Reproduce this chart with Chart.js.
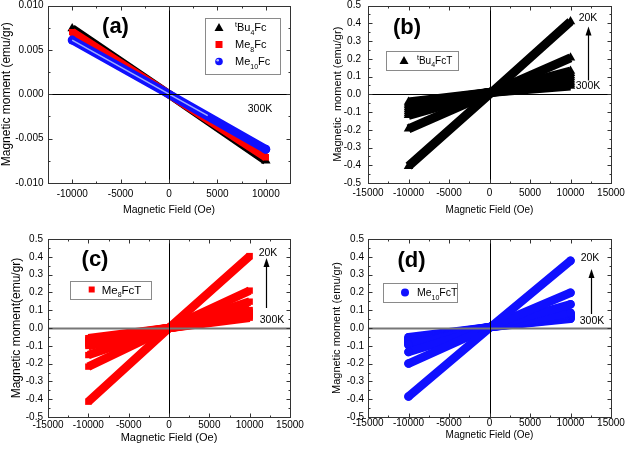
<!DOCTYPE html>
<html><head><meta charset="utf-8">
<script src="https://cdn.jsdelivr.net/npm/chart.js@4.4.0/dist/chart.umd.min.js"></script>
<style>
html,body{margin:0;padding:0;background:#fff;overflow:hidden;width:625px;height:450px;position:relative;}
</style></head><body>
<script>
const FONT = "'Liberation Sans', Arial, Helvetica, sans-serif";
Chart.defaults.font.family = FONT;
Chart.defaults.color = '#000';

// ---------------- DATA ----------------
// Panel (a): 300 K magnetisation of the neutral ferrocenes
const fieldA = [-10000, 0, 10000];
const tBu4Fc = [0.0074, 0.0000, -0.0075];
const me8Fc  = [0.0070, 0.0000, -0.0071];
const me10Fc = [0.0061, 0.0000, -0.0062];
const me10GlintField = [-10000, 4000];
const me10Glint      = [0.0061, -0.0024];

// Panels (b)-(d): isotherms, 20 K (first) ... 300 K (last)
const fieldT = [-10000, 0, 10000];
const tBu4FcT = [
  [-0.405, 0.000, 0.410],
  [-0.195, 0.005, 0.205],
  [-0.119, 0.010, 0.131],
  [-0.108, 0.010, 0.118],
  [-0.097, 0.010, 0.106],
  [-0.086, 0.010, 0.094],
  [-0.075, 0.010, 0.081],
  [-0.064, 0.010, 0.069],
  [-0.054, 0.010, 0.058],
  [-0.044, 0.010, 0.047]
];
const me8FcT = [
  [-0.414, 0.000, 0.404],
  [-0.217, 0.000, 0.210],
  [-0.152, 0.000, 0.148],
  [-0.101, 0.000, 0.101],
  [-0.092, 0.000, 0.092],
  [-0.083, 0.000, 0.083],
  [-0.075, 0.000, 0.075],
  [-0.066, 0.000, 0.066],
  [-0.057, 0.000, 0.058]
];
const me10FcT = [
  [-0.385, 0.000, 0.378],
  [-0.200, 0.005, 0.198],
  [-0.135, 0.005, 0.133],
  [-0.096, 0.005, 0.086],
  [-0.087, 0.005, 0.079],
  [-0.078, 0.005, 0.071],
  [-0.069, 0.005, 0.064],
  [-0.060, 0.005, 0.058],
  [-0.052, 0.005, 0.052]
];

// Tick labels
const xTicksA = [-10000, -5000, 0, 5000, 10000];
const yTicksA = [-0.010, -0.005, 0.000, 0.005, 0.010];
const xTicksT = [-15000, -10000, -5000, 0, 5000, 10000, 15000];
const yTicksT = [-0.5, -0.4, -0.3, -0.2, -0.1, 0.0, 0.1, 0.2, 0.3, 0.4, 0.5];

// ---------------- HELPERS ----------------
function pts(xs, ys) { return xs.map((x, i) => ({x: x, y: ys[i]})); }
function endR(n, r) { return c => (c.dataIndex === 0 || c.dataIndex === n - 1) ? r : 0; }
function series(xs, ys, color, width, style, r, order, cap) {
  return { data: pts(xs, ys), showLine: true, borderColor: color, backgroundColor: color,
    borderWidth: width, pointStyle: style, pointRadius: endR(xs.length, r),
    pointBorderWidth: 0, order: order, borderCapStyle: cap || 'butt' };
}
function minorOf(majors, min, max) {
  const out = [];
  const step = majors[1] - majors[0];
  const all = [majors[0] - step].concat(majors, [majors[majors.length - 1] + step]);
  for (let i = 0; i < all.length - 1; i++) {
    const m = (all[i] + all[i + 1]) / 2;
    if (m > min - 1e-12 && m < max + 1e-12) out.push(m);
  }
  return out;
}
function marker(ctx, style, x, y, r, color) {
  ctx.fillStyle = color;
  ctx.beginPath();
  if (style === 'triangle') {
    ctx.moveTo(x, y - r); ctx.lineTo(x + r, y + r * 0.75); ctx.lineTo(x - r, y + r * 0.75); ctx.closePath();
  } else if (style === 'rect') {
    ctx.rect(x - r, y - r, 2 * r, 2 * r);
  } else {
    ctx.arc(x, y, r, 0, Math.PI * 2);
  }
  ctx.fill();
}
function rich(ctx, parts, x, y, size) {
  ctx.textAlign = 'left'; ctx.textBaseline = 'alphabetic'; ctx.fillStyle = '#000';
  let cx = x;
  for (const p of parts) {
    const k = p[0], t = p[1];
    const s = k === 'n' ? size : Math.round(size * 0.65);
    ctx.font = s + 'px ' + FONT;
    const dy = k === 'sup' ? -size * 0.42 : (k === 'sub' ? size * 0.32 : 0);
    ctx.fillText(t, cx, y + dy);
    cx += ctx.measureText(t).width;
  }
}

function makeDeco(d) {
  return {
    id: 'deco',
    afterDatasetsDraw(chart) {
      const ctx = chart.ctx, a = chart.chartArea, xs = chart.scales.x, ys = chart.scales.y;
      ctx.save();
      const L = Math.round(a.left) + 0.5, R = Math.round(a.right) + 0.5;
      const T = Math.round(a.top) + 0.5, B = Math.round(a.bottom) + 0.5;
      // zero lines
      const x0 = Math.round(xs.getPixelForValue(0)) + 0.5, y0 = Math.round(ys.getPixelForValue(0)) + 0.5;
      ctx.strokeStyle = d.zeroH[0]; ctx.lineWidth = d.zeroH[1];
      ctx.beginPath(); ctx.moveTo(L, y0); ctx.lineTo(R, y0); ctx.stroke();
      ctx.strokeStyle = d.zeroV[0]; ctx.lineWidth = d.zeroV[1];
      ctx.beginPath(); ctx.moveTo(x0, T); ctx.lineTo(x0, B); ctx.stroke();
      // frame
      ctx.strokeStyle = '#333'; ctx.lineWidth = 1;
      ctx.strokeRect(L, T, R - L, B - T);
      // inward ticks on all sides
      const tk = (scale, vals, len, horiz) => {
        ctx.beginPath();
        for (const v of vals) {
          const p = Math.round(scale.getPixelForValue(v)) + 0.5;
          if (horiz) { ctx.moveTo(p, B); ctx.lineTo(p, B - len); ctx.moveTo(p, T); ctx.lineTo(p, T + len); }
          else { ctx.moveTo(L, p); ctx.lineTo(L + len, p); ctx.moveTo(R, p); ctx.lineTo(R - len, p); }
        }
        ctx.stroke();
      };
      tk(xs, d.xMaj, 4, true); tk(xs, minorOf(d.xMaj, xs.min, xs.max), 2, true);
      tk(ys, d.yMaj, 4, false); tk(ys, minorOf(d.yMaj, ys.min, ys.max), 2, false);
      // panel label
      ctx.fillStyle = '#000';
      ctx.font = 'bold 22px ' + FONT; ctx.textAlign = 'center'; ctx.textBaseline = 'middle';
      ctx.fillText(d.label[0], a.left + d.label[1], a.top + d.label[2]);
      // annotations
      ctx.font = '10.5px ' + FONT;
      for (const t of d.texts) ctx.fillText(t[0], a.left + t[1], a.top + t[2]);
      if (d.arrow) {
        const ax = Math.round(a.left + d.arrow[0]) + 0.5, yb = a.top + d.arrow[1], yt = a.top + d.arrow[2];
        ctx.strokeStyle = '#000'; ctx.lineWidth = 1.2;
        ctx.beginPath(); ctx.moveTo(ax, yb); ctx.lineTo(ax, yt + 6); ctx.stroke();
        ctx.beginPath(); ctx.moveTo(ax, yt); ctx.lineTo(ax + 3, yt + 9); ctx.lineTo(ax - 3, yt + 9); ctx.closePath(); ctx.fill();
      }
      // legend
      const lg = d.legend;
      ctx.fillStyle = '#fff'; ctx.strokeStyle = '#8a8a8a'; ctx.lineWidth = 1;
      const bx = Math.round(a.left + lg.box[0]) + 0.5, by = Math.round(a.top + lg.box[1]) + 0.5;
      ctx.fillRect(bx, by, lg.box[2], lg.box[3]); ctx.strokeRect(bx, by, lg.box[2], lg.box[3]);
      lg.rows.forEach((row, i) => {
        const ry = a.top + lg.rowY[i];
        marker(ctx, row.style, a.left + lg.mx, ry, row.r, row.color);
        if (row.glint) { ctx.fillStyle = 'rgba(200,210,255,0.9)'; ctx.beginPath(); ctx.arc(a.left + lg.mx - 1.3, ry - 1.3, 1.3, 0, Math.PI * 2); ctx.fill(); }
        rich(ctx, row.parts, a.left + lg.tx, ry + lg.size * 0.36, lg.size);
      });
      ctx.restore();
    }
  };
}

function makePanel(c) {
  const wrap = document.createElement('div');
  wrap.style.cssText = 'position:absolute;left:' + c.left + 'px;top:' + c.top + 'px;width:' + c.w + 'px;height:' + c.h + 'px';
  const cv = document.createElement('canvas');
  cv.width = c.w; cv.height = c.h; cv.style.width = c.w + 'px'; cv.style.height = c.h + 'px';
  wrap.appendChild(cv); document.body.appendChild(wrap);
  const A = c.area; // L, T, R, B in canvas px
  return new Chart(cv, {
    type: 'scatter',
    data: { datasets: c.datasets },
    options: {
      responsive: false, animation: false, devicePixelRatio: 1,
      layout: { padding: { left: 0, top: A[1], right: c.w - A[2], bottom: 0 } },
      plugins: { legend: { display: false }, tooltip: { enabled: false } },
      elements: { line: { tension: 0 } },
      scales: {
        x: {
          type: 'linear', min: c.xMin, max: c.xMax,
          afterBuildTicks: s => { s.ticks = c.xTicks.map(v => ({ value: v })); },
          afterFit: s => { s.height = c.h - A[3]; s.paddingLeft = 0; s.paddingRight = 0; },
          grid: { display: false, drawTicks: false, tickLength: 0 },
          border: { display: false },
          ticks: { autoSkip: false, maxRotation: 0, minRotation: 0, padding: c.xTickPad,
                   font: { size: 10 }, color: '#000', callback: v => String(v) },
          title: { display: true, text: 'Magnetic Field (Oe)', color: '#000',
                   font: { size: c.xTitleSize }, padding: { top: 0, bottom: c.xTitlePad } }
        },
        y: {
          type: 'linear', min: c.yMin, max: c.yMax,
          afterBuildTicks: s => { s.ticks = c.yTicks.map(v => ({ value: v })); },
          afterFit: s => { s.width = A[0]; s.paddingTop = 0; s.paddingBottom = 0; },
          grid: { display: false, drawTicks: false, tickLength: 0 },
          border: { display: false },
          ticks: { autoSkip: false, padding: c.yTickPad, font: { size: 10 }, color: '#000',
                   callback: v => v.toFixed(c.yDec) },
          title: { display: true, text: c.yTitle, color: '#000',
                   font: { size: c.yTitleSize }, padding: { top: c.yTitlePad, bottom: 0 } }
        }
      }
    },
    plugins: [makeDeco(c.deco)]
  });
}

const RED = '#ff0000', BLUE = '#1010ff', BLACK = '#000000';
const lblTBu = [['sup', 't'], ['n', 'Bu'], ['sub', '4'], ['n', 'Fc']];
const lblMe8 = [['n', 'Me'], ['sub', '8'], ['n', 'Fc']];
const lblMe10 = [['n', 'Me'], ['sub', '10'], ['n', 'Fc']];

// ---- Panel (a)
makePanel({
  left: 0, top: 0, w: 310, h: 220, area: [48, 4, 290, 183],
  xMin: -12500, xMax: 12500, yMin: -0.01, yMax: 0.01, xTicks: xTicksA, yTicks: yTicksA, yDec: 3,
  xTickPad: 5.5, yTickPad: 4.5, xTitleSize: 10.5, xTitlePad: 4, yTitle: 'Magnetic moment (emu/gr)', yTitleSize: 12, yTitlePad: -1,
  datasets: [
    series(fieldA, tBu4Fc, BLACK, 8.5, 'triangle', 5.5, 4),
    series(fieldA, me8Fc, RED, 8.5, 'rect', 4.5, 3),
    series(fieldA, me10Fc, BLUE, 8.5, 'circle', 4.5, 2, 'round'),
    Object.assign(series(me10GlintField, me10Glint, 'rgba(175,190,255,0.9)', 1.5, 'circle', 0, 1), { pointRadius: 0 })
  ],
  deco: {
    xMaj: xTicksA, yMaj: yTicksA, zeroH: ['#000', 1], zeroV: ['#000', 1],
    label: ['(a)', 67.5, 21.5], texts: [['300K', 212, 104]], arrow: null,
    legend: { box: [157, 12, 75, 56], rowY: [22, 39, 56], mx: 171, tx: 187, size: 11,
      rows: [ { style: 'triangle', r: 4.5, color: BLACK, parts: lblTBu },
              { style: 'rect', r: 3.5, color: RED, parts: lblMe8 },
              { style: 'circle', r: 3.8, color: BLUE, parts: lblMe10, glint: true } ] }
  }
});

// ---- Panel (b)
makePanel({
  left: 310, top: 0, w: 315, h: 220, area: [58, 5, 301, 183],
  xMin: -15000, xMax: 15000, yMin: -0.5, yMax: 0.5, xTicks: xTicksT, yTicks: yTicksT, yDec: 1,
  xTickPad: 4, yTickPad: 7, xTitleSize: 10, xTitlePad: 4, yTitle: 'Magnetic  moment (emu/gr)', yTitleSize: 11, yTitlePad: 21.4,
  datasets: tBu4FcT.map((s, i) => series(fieldT, s, BLACK, 9, 'triangle', 5.5, i)),
  deco: {
    xMaj: xTicksT, yMaj: yTicksT, zeroH: ['#000', 1], zeroV: ['#000', 1],
    label: ['(b)', 39, 22], texts: [['20K', 220, 13], ['300K', 220, 81]], arrow: [220, 75, 21],
    legend: { box: [18, 45, 72, 19], rowY: [55], mx: 36, tx: 49, size: 10,
      rows: [ { style: 'triangle', r: 4.5, color: BLACK, parts: lblTBu.concat([['n', 'T']]) } ] }
  }
});

// ---- Panel (c)
makePanel({
  left: 0, top: 220, w: 310, h: 230, area: [48, 19, 290, 197],
  xMin: -15000, xMax: 15000, yMin: -0.5, yMax: 0.5, xTicks: xTicksT, yTicks: yTicksT, yDec: 1,
  xTickPad: 2, yTickPad: 5, xTitleSize: 11, xTitlePad: 5, yTitle: 'Magnetic moment(emu/gr)', yTitleSize: 12, yTitlePad: 9,
  datasets: me8FcT.map((s, i) => series(fieldT, s, RED, 8.5, 'rect', 4.5, i)),
  deco: {
    xMaj: xTicksT, yMaj: yTicksT, zeroH: ['#777', 2], zeroV: ['#000', 1],
    label: ['(c)', 47, 21], texts: [['20K', 220, 14], ['300K', 224, 81]], arrow: [218, 69, 19],
    legend: { box: [22, 42, 81, 18], rowY: [50.5], mx: 43.7, tx: 53.7, size: 11.5,
      rows: [ { style: 'rect', r: 3, color: RED, parts: lblMe8.concat([['n', 'T']]) } ] }
  }
});

// ---- Panel (d)
makePanel({
  left: 310, top: 220, w: 315, h: 230, area: [58, 19, 301, 197],
  xMin: -15000, xMax: 15000, yMin: -0.5, yMax: 0.5, xTicks: xTicksT, yTicks: yTicksT, yDec: 1,
  xTickPad: 0, yTickPad: 4, xTitleSize: 10, xTitlePad: 9, yTitle: 'Magnetic moment (emu/gr)', yTitleSize: 11, yTitlePad: 20.4,
  datasets: me10FcT.map((s, i) => series(fieldT, s, BLUE, 8.5, 'circle', 4.25, i, 'round')),
  deco: {
    xMaj: xTicksT, yMaj: yTicksT, zeroH: ['#777', 2], zeroV: ['#000', 1],
    label: ['(d)', 43.5, 22], texts: [['20K', 222, 19], ['300K', 224, 82]], arrow: [223, 75, 30],
    legend: { box: [15, 44, 74, 19], rowY: [53.5], mx: 37, tx: 49, size: 10.5,
      rows: [ { style: 'circle', r: 4, color: BLUE, parts: lblMe10.concat([['n', 'T']]) } ] }
  }
});
</script>
</body></html>
